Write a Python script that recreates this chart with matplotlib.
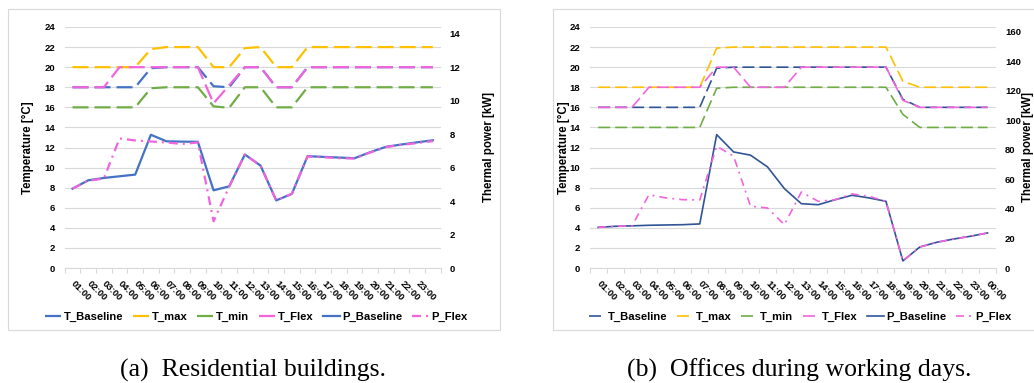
import matplotlib
matplotlib.use('Agg')
import matplotlib.pyplot as plt
from matplotlib.patches import Rectangle
from matplotlib.ticker import FixedLocator

plt.rcParams['font.family'] = ['Liberation Sans', 'DejaVu Sans']
plt.rcParams['lines.scale_dashes'] = False

# ---------------- data ----------------
series_names = ['T_Baseline', 'T_max', 'T_min', 'T_Flex', 'P_Baseline', 'P_Flex']

# (a) Residential buildings (24 hourly steps, last slot unlabeled)
res_hours = ['01:00', '02:00', '03:00', '04:00', '05:00', '06:00', '07:00', '08:00',
             '09:00', '10:00', '11:00', '12:00', '13:00', '14:00', '15:00', '16:00',
             '17:00', '18:00', '19:00', '20:00', '21:00', '22:00', '23:00', '']
res_t_baseline = [18, 18, 18, 18, 18, 19.9, 20, 20, 20, 18.1, 18, 20,
                  20, 18, 18, 20, 20, 20, 20, 20, 20, 20, 20, 20]
res_t_max = [20, 20, 20, 20, 20, 21.8, 22, 22, 22, 20, 20, 21.9,
             22, 20, 20, 22, 22, 22, 22, 22, 22, 22, 22, 22]
res_t_min = [16, 16, 16, 16, 16, 17.9, 18, 18, 18, 16.1, 15.95, 18,
             18, 16, 16, 18, 18, 18, 18, 18, 18, 18, 18, 18]
res_t_flex = [18, 18, 18, 20, 20, 20, 20, 20, 20, 16.4, 18.2, 20,
              20, 18, 18, 20, 20, 20, 20, 20, 20, 20, 20, 20]
res_p_baseline = [4.74, 5.24, 5.38, 5.48, 5.58, 7.96, 7.57, 7.55, 7.54, 4.64, 4.88, 6.78,
                  6.12, 4.04, 4.43, 6.68, 6.64, 6.60, 6.56, 6.92, 7.24, 7.38, 7.51, 7.63]
res_p_flex = [4.74, 5.22, 5.34, 7.74, 7.62, 7.56, 7.50, 7.41, 7.50, 2.79, 4.86, 6.78,
              6.12, 4.04, 4.43, 6.66, 6.62, 6.56, 6.54, 6.90, 7.22, 7.36, 7.46, 7.58]

# (b) Offices during working days
off_hours = ['01:00', '02:00', '03:00', '04:00', '05:00', '06:00', '07:00', '08:00',
             '09:00', '10:00', '11:00', '12:00', '13:00', '14:00', '15:00', '16:00',
             '17:00', '18:00', '19:00', '20:00', '21:00', '22:00', '23:00', '00:00']
off_t_baseline = [16, 16, 16, 16, 16, 16, 16, 19.9, 20, 20, 20, 20,
                  20, 20, 20, 20, 20, 20, 16.8, 16, 16, 16, 16, 16]
off_t_max = [18, 18, 18, 18, 18, 18, 18, 21.9, 22, 22, 22, 22,
             22, 22, 22, 22, 22, 22, 18.6, 18, 18, 18, 18, 18]
off_t_min = [14, 14, 14, 14, 14, 14, 14, 17.9, 18, 18, 18, 18,
             18, 18, 18, 18, 18, 18, 15.3, 14, 14, 14, 14, 14]
off_t_flex = [16, 16, 16, 18, 18, 18, 18, 20, 20, 18, 18, 18,
              20, 20, 20, 20, 20, 20, 16.7, 16, 16, 16, 16, 16]
off_p_baseline = [27.5, 28.2, 28.5, 28.9, 29.1, 29.3, 29.8, 90.2, 78.5, 76.3, 68.4, 53.7,
                  43.5, 42.8, 46.2, 49.2, 47.4, 45.1, 4.8, 14.2, 17.4, 19.6, 21.5, 23.7]
off_p_flex = [27.5, 28.2, 28.5, 49.6, 47.4, 46.2, 46.0, 82.4, 75.6, 41.8, 40.6, 29.3,
              51.4, 45.1, 46.2, 50.1, 48.5, 45.1, 4.8, 14.2, 17.4, 19.6, 21.5, 23.7]

temp_ticks = [0, 2, 4, 6, 8, 10, 12, 14, 16, 18, 20, 22, 24]
res_power_ticks = [0, 2, 4, 6, 8, 10, 12, 14]
off_power_ticks = [0, 20, 40, 60, 80, 100, 120, 140, 160]

# ---------------- styling ----------------
W, H = 1034, 383
GRID = '#D9D9D9'
PINK = '#F264DE'
ORANGE = '#FFC000'
GREEN = '#70AD47'
BLUE_A = '#4472C4'
BLUE_B = '#2F5597'
PX = 0.72  # points per pixel at 100 dpi

fig = plt.figure(figsize=(W / 100, H / 100), dpi=100)
fig.patch.set_facecolor('white')


def fx(px):
    return px / W


def fy(py):
    return 1 - py / H


# outer chart frames
for x0, x1 in [(8, 500), (553, 1045)]:
    fig.add_artist(Rectangle((fx(x0), fy(330)), fx(x1 - x0), (330 - 9) / H,
                             transform=fig.transFigure, fill=False,
                             edgecolor=GRID, lw=0.8))


def panel(left_px, right_px, hours, t_series, p_series, p_max, p_ticks,
          colors, lw_t, lw_p, dash_t, dash_p, ylab_cx, y2lab_cx, legend_cx):
    width_px = right_px - left_px
    ax = fig.add_axes([fx(left_px), fy(268), fx(width_px), (268 - 27) / H])
    n = len(hours)
    x = list(range(n))
    handles = []
    for name, vals, col in zip(series_names[:4], t_series, colors[:4]):
        ln, = ax.plot(x, vals, color=col, lw=lw_t, dashes=dash_t, label=name,
                      solid_capstyle='butt', dash_capstyle='butt')
        handles.append(ln)
    ax.set_xlim(-0.5, n - 0.5)
    ax.set_ylim(0, 24)
    ax.set_yticks(temp_ticks)
    ax.set_yticklabels([str(v) for v in temp_ticks])
    ax.yaxis.grid(True, color=GRID, lw=0.8)
    ax.set_axisbelow(True)
    for s in ['top', 'left', 'right']:
        ax.spines[s].set_visible(False)
    ax.spines['bottom'].set_color(GRID)
    ax.spines['bottom'].set_linewidth(0.8)
    ax.tick_params(axis='y', length=0, pad=7, labelsize=6.8)
    for lab in ax.get_yticklabels():
        lab.set_fontweight('bold')
    ax.set_xticks(x)
    ax.set_xticklabels(hours, rotation=-45, ha='left', va='center',
                       rotation_mode='anchor', fontsize=6.8, fontweight='bold')
    ax.tick_params(axis='x', which='major', length=0, pad=10)
    ax.xaxis.set_minor_locator(FixedLocator([i - 0.5 for i in range(n + 1)]))
    ax.tick_params(axis='x', which='minor', length=3.5, color=GRID, width=0.8)
    ax.set_ylabel('Temperature [°C]', fontsize=8.3, fontweight='bold', va='center')
    ax.yaxis.set_label_coords((ylab_cx - left_px) / width_px, 0.5)

    ax2 = ax.twinx()
    ln, = ax2.plot(x, p_series[0], color=colors[4], lw=lw_p, label=series_names[4])
    handles.append(ln)
    ln, = ax2.plot(x, p_series[1], color=colors[5], lw=lw_p, dashes=dash_p,
                   label=series_names[5])
    handles.append(ln)
    ax2.set_ylim(0, p_max)
    ax2.set_yticks(p_ticks)
    ax2.set_yticklabels([str(v) for v in p_ticks])
    for s in ['top', 'left', 'right', 'bottom']:
        ax2.spines[s].set_visible(False)
    ax2.tick_params(axis='y', length=0, pad=6.5, labelsize=6.8)
    for lab in ax2.get_yticklabels():
        lab.set_fontweight('bold')
    ax2.set_ylabel('Thermal power [kW]', fontsize=8.3, fontweight='bold',
                   rotation=90, va='center')
    ax2.yaxis.set_label_coords((y2lab_cx - left_px) / width_px, 0.5)

    fig.legend(handles=handles, loc='center', ncol=6,
               bbox_to_anchor=(fx(legend_cx), fy(317)), frameon=False,
               prop={'weight': 'bold', 'size': 8.1}, handlelength=1.45,
               handletextpad=0.25, columnspacing=0.85, borderaxespad=0)
    return ax, ax2


panel(64.7, 440.7, res_hours,
      [res_t_baseline, res_t_max, res_t_min, res_t_flex],
      [res_p_baseline, res_p_flex], 14.4, res_power_ticks,
      [BLUE_A, ORANGE, GREEN, PINK, BLUE_A, PINK],
      1.6, 1.6, (16 * PX, 6 * PX), (9 * PX, 5 * PX, 2 * PX, 5 * PX),
      28, 489, 256)

panel(589.7, 996.0, off_hours,
      [off_t_baseline, off_t_max, off_t_min, off_t_flex],
      [off_p_baseline, off_p_flex], 163, off_power_ticks,
      [BLUE_B, ORANGE, GREEN, PINK, BLUE_B, PINK],
      1.2, 1.2, (12 * PX, 5 * PX), (8 * PX, 5 * PX, 2 * PX, 5 * PX),
      563.5, 1028, 800)

# sub-figure captions
for cx, txt in [(253, '(a)  Residential buildings.'), (799, '(b)  Offices during working days.')]:
    fig.text(fx(cx), fy(377), txt, ha='center', va='baseline',
             family=['Liberation Serif', 'DejaVu Serif'], fontsize=18.5)

fig.savefig('out.png', dpi=100, facecolor='white')
